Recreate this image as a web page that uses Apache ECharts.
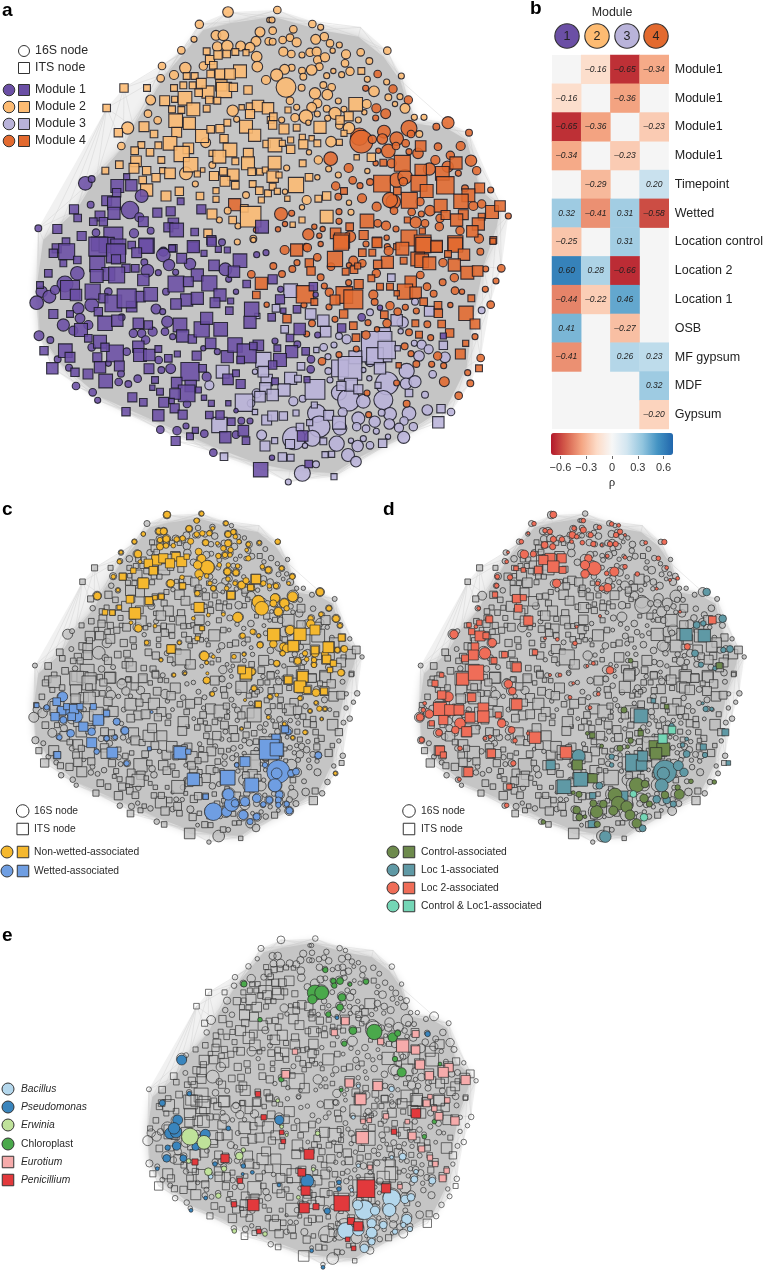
<!DOCTYPE html>
<html><head><meta charset="utf-8"><style>html,body{margin:0;padding:0;background:#fff}#c{width:766px;height:1270px}</style>
<script src="https://cdn.jsdelivr.net/npm/echarts@6/dist/echarts.min.js"></script></head><body><div id="c"></div>
<script>
const hullInner=[[690,70],[820,50],[960,90],[1075,110],[1150,170],[1200,240],[1240,370],[1340,385],[1400,420],[1440,570],[1500,620],[1490,680],[1450,800],[1420,950],[1400,1100],[1340,1220],[1200,1310],[1080,1370],[1000,1420],[870,1410],[770,1390],[640,1340],[480,1270],[300,1190],[180,1090],[120,1000],[110,860],[130,720],[230,630],[290,530],[370,440],[400,380],[500,220],[560,150],[610,90]];
const hullOuter=[[684,36],[832,30],[962,72],[1082,82],[1162,152],[1204,228],[1243,352],[1344,368],[1407,398],[1500,610],[1525,648],[1504,805],[1472,905],[1442,1074],[1411,1150],[1353,1236],[1215,1310],[1068,1385],[1002,1430],[865,1446],[782,1409],[640,1358],[481,1289],[293,1201],[157,1105],[117,1007],[110,908],[115,685],[320,324],[372,264],[486,198],[544,151],[598,73]];
const rimFans=[[684,36,[0,1,34,33,2]],[832,30,[1,0,2,34]],[962,72,[2,1,3,0]],[1082,82,[3,2,4,1]],[1162,152,[4,3,5,2]],[1204,228,[5,4,6,3]],[1243,352,[6,5,7,4]],[1344,368,[7,6,8,5]],[1407,398,[8,7,9,6]],[1500,610,[10,9,11,8]],[1525,648,[11,10,12,9]],[1504,805,[12,11,13,10]],[1472,905,[12,13,11,14]],[1442,1074,[14,13,12]],[1411,1150,[14,15,13]],[1353,1236,[15,14,16]],[1315,1267,[15,16,14]],[1215,1310,[16,15,17,14]],[1068,1385,[17,18,16,15]],[1002,1430,[18,17,19,16]],[865,1446,[19,20,18,17]],[782,1409,[20,19,21,18]],[640,1358,[21,20,22,19]],[527,1323,[22,21,20]],[481,1289,[22,21,23]],[378,1235,[23,22,21]],[293,1201,[23,22,24]],[228,1158,[24,23,22]],[157,1105,[24,23,25]],[117,1007,[25,24,26,23]],[110,908,[26,25,27,24]],[115,685,[27,28,26,29,25]],[222,628,[28,27,29]],[256,550,[29,28,30]],[316,512,[30,29,28]],[383,384,[31,30,32]],[320,324,[31,30,32,29,28,27,26]],[372,264,[32,31,30,33,29]],[486,198,[32,33,31,30]],[544,151,[33,32,34,31]],[598,73,[34,0,33,32,1]]];

const m2cNW=[[684,36,28],[598,73,22],[648,106,26],[670,106,28],[780,96,26],[582,118,16],[768,124,26],[652,140,26],[682,138,30],[722,138,26],[750,142,26],[544,151,20],[808,60,14],[806,124,20],[486,198,20],[556,204,30],[610,198,22],[522,225,24],[482,235,20],[770,170,28],[798,240,24],[772,200,28],[452,300,26],[698,332,30],[444,341,20],[473,361,20],[383,384,32],[364,438,20],[617,428,26],[637,495,18],[558,520,34],[586,552,16],[710,358,16],[738,585,18],[658,660,16],[683,632,18],[760,716,18],[714,678,16]];
const m2sNW=[[372,264,22],[441,264,18],[320,324,20],[620,154,18],[630,180,24],[706,156,18],[738,158,16],[680,162,20],[654,165,22],[640,196,20],[720,214,34],[660,222,26],[632,222,20],[690,222,28],[584,228,18],[560,228,18],[522,264,18],[550,256,18],[578,256,18],[624,276,32],[604,250,26],[664,256,30],[672,270,40],[700,262,22],[744,270,22],[524,298,16],[494,302,26],[555,295,36],[596,278,20],[628,300,20],[652,302,18],[516,328,18],[544,330,18],[580,328,34],[620,326,18],[725,322,14],[750,320,20],[774,318,30],[804,325,30],[750,342,24],[812,360,18],[432,380,26],[355,398,22],[462,402,20],[527,362,36],[568,370,32],[530,397,26],[606,408,34],[632,388,20],[660,386,22],[682,368,18],[738,380,34],[764,406,32],[672,416,22],[424,435,18],[404,452,20],[450,457,20],[475,436,18],[510,430,36],[565,445,28],[545,462,40],[690,450,36],[745,460,26],[800,432,20],[636,460,16],[658,470,34],[706,484,18],[744,490,34],[484,480,18],[408,484,28],[402,505,26],[572,494,38],[316,512,18],[358,494,20],[440,512,22],[488,512,16],[510,520,28],[468,533,22],[428,540,20],[608,510,12],[592,522,16],[642,528,24],[670,514,20],[700,524,30],[755,515,20],[780,515,18],[796,510,16],[675,544,26],[706,556,20],[758,552,18],[778,572,20],[804,580,18],[440,570,32],[498,588,26],[538,574,22],[648,572,16],[600,588,20],[648,598,16],[784,600,16],[636,642,26],[698,660,20],[733,625,20],[752,650,54],[624,700,22]];
const m1sNW=[[380,530,16],[352,558,34],[394,556,30],[320,602,26],[350,578,22],[342,610,34],[342,640,32],[222,628,24],[233,654,20],[300,648,26],[280,665,20],[310,665,22],[172,687,24],[245,708,24],[472,638,24],[512,634,24],[542,604,18],[604,628,24],[520,670,28],[505,682,24],[530,690,36],[584,696,20],[786,680,34],[634,720,24],[430,665,26],[340,710,50],[295,732,36],[320,735,40],[355,740,40],[440,737,40],[198,725,20],[170,745,24],[520,745,20],[580,742,26],[655,748,16]];
const m1cNW=[[256,550,36],[275,537,18],[425,588,34],[390,630,46],[272,614,18],[418,652,24],[115,685,18],[288,698,20],[452,692,18],[402,700,24],[666,727,18],[490,755,24]];
const m4sNW=[[704,614,32]];
const m4cNW=[[768,690,14]];

const m1sSW=[[200,35,42],[160,40,22],[295,20,50],[348,40,50],[438,18,38],[395,15,20],[410,38,26],[516,25,18],[580,20,32],[545,55,26],[612,40,16],[682,30,16],[635,5,24],[720,62,36],[145,100,20],[190,70,18],[232,60,20],[292,72,40],[348,58,24],[378,85,22],[406,85,20],[325,102,34],[350,105,42],[290,108,34],[430,120,30],[642,76,28],[702,95,30],[592,105,32],[528,132,42],[565,125,26],[628,130,40],[660,165,32],[740,132,20],[120,135,18],[210,150,50],[228,165,30],[278,155,40],[310,175,24],[340,190,44],[395,200,28],[420,170,28],[452,163,36],[380,175,50],[560,180,32],[592,175,32],[528,192,28],[645,188,26],[692,183,16],[688,212,20],[755,208,38],[160,222,24],[210,222,18],[295,215,22],[315,250,38],[352,242,30],[415,250,28],[445,255,22],[540,255,36],[548,288,32],[577,297,22],[605,268,40],[620,235,32],[662,268,36],[750,247,32],[243,270,34],[265,295,20],[300,305,34],[345,340,44],[315,322,22],[415,320,30],[420,345,34],[448,345,30],[475,327,18],[632,310,28],[590,347,24],[505,355,20],[532,342,16],[196,332,36],[210,352,26],[132,332,22],[292,352,24],[300,382,30],[358,378,26],[157,385,30],[225,397,22],[264,402,26],[447,386,26],[317,423,36],[570,395,48],[608,385,20],[530,428,28],[572,438,30],[560,460,44],[525,462,28],[595,450,16],[480,455,18],[457,443,14],[465,420,18],[397,472,24],[430,487,20],[491,487,26],[515,483,14],[524,505,24],[548,524,24],[634,490,16],[612,473,14],[475,526,30],[378,515,22],[628,525,20],[660,525,22],[694,545,20],[685,490,14],[722,432,24],[684,418,28],[708,400,18],[682,350,32],[705,315,38],[775,316,28],[740,340,50],[722,360,20],[760,318,20],[730,572,28],[570,589,18],[586,571,16],[676,592,30],[527,603,24],[738,602,20],[782,689,38]];
const m1cSW=[[490,45,36],[507,75,30],[570,72,30],[433,67,18],[442,92,34],[475,98,16],[527,97,16],[676,88,34],[770,44,16],[798,38,16],[686,118,16],[498,155,18],[708,155,14],[125,155,30],[148,170,34],[110,188,36],[195,132,42],[232,100,36],[165,150,24],[325,155,20],[235,205,30],[275,195,36],[240,235,26],[190,255,32],[265,255,24],[220,272,24],[365,232,18],[468,207,26],[488,215,16],[502,245,30],[458,275,24],[495,275,20],[400,280,22],[425,280,22],[437,300,22],[275,322,20],[380,335,20],[518,290,16],[610,325,14],[652,335,16],[117,287,26],[151,300,18],[173,358,18],[207,383,18],[476,360,20],[325,370,16],[363,401,18],[484,390,18],[512,386,26],[413,416,20],[356,426,20],[385,432,18],[228,438,20],[278,457,20],[293,481,16],[620,410,24],[708,512,12],[561,492,20],[481,569,20],[531,572,22],[558,558,16],[613,581,20],[708,584,20],[724,542,18],[750,543,16],[640,638,20]];
const m3sSW=[[668,395,34],[672,650,20],[732,488,46],[795,618,26],[658,555,40],[790,360,40],[800,420,30],[790,395,28],[772,228,14],[796,445,30],[780,470,28],[765,516,14],[800,540,26]];
const m3cSW=[[628,436,24],[785,585,26],[765,395,14],[770,460,24],[753,490,20]];
const m4sSW=[[784,130,32],[769,165,20]];
const m4cSW=[[754,103,20],[800,194,14]];
const m2cSW=[[712,6,16],[760,0,14]];

const m2cNE=[[22,30,20],[6,60,16],[70,88,20],[8,92,20],[127,72,20],[152,82,16],[38,120,20],[60,113,20],[80,127,24],[137,118,26],[163,110,22],[180,130,20],[208,135,16],[8,125,18],[352,152,20],[272,157,20],[40,155,24],[64,162,20],[120,157,22],[140,155,24],[96,165,16],[188,152,14],[228,163,24],[143,180,22],[165,172,24],[225,190,20],[298,183,18],[148,200,20],[125,210,28],[96,212,18],[190,213,14],[240,214,22],[65,203,18],[44,208,26],[20,225,32],[48,262,52],[100,230,18],[170,227,16],[215,224,16],[292,238,16],[350,246,16],[394,228,16],[160,255,18],[185,262,20],[95,263,18],[135,280,30],[172,284,28],[312,274,28],[355,292,18],[390,290,16],[375,312,14],[405,325,26],[60,302,20],[205,303,16],[290,312,24],[142,310,24],[125,322,26],[80,322,16],[170,326,18],[195,340,32],[222,328,16],[283,337,14],[108,350,36],[75,353,22],[142,342,16],[173,355,16],[265,360,16],[35,360,16],[208,376,20],[115,368,14],[237,384,30],[433,352,16],[462,352,16],[448,402,18],[183,425,28],[117,457,14],[145,480,22],[176,507,16],[205,525,16],[142,532,14],[50,504,16],[292,513,14],[45,575,14],[110,600,24],[96,622,14],[237,608,14],[243,637,16]];
const m2sNE=[[274,213,18],[257,313,36],[236,349,24],[54,330,16],[10,350,20],[8,375,22],[42,387,26],[80,383,18],[150,382,32],[222,400,16],[97,412,16],[125,415,14],[142,430,18],[100,433,24],[62,420,16],[208,427,16],[15,435,36],[37,430,16],[62,448,22],[14,488,34],[98,490,18],[304,472,22],[260,472,14],[8,530,30],[27,525,16],[117,532,20],[78,555,40],[8,560,18],[22,574,16],[52,596,14],[145,596,18],[170,588,22],[170,650,34],[96,660,16],[68,674,14],[210,360,22]];
const m4cNE=[[323,222,20],[287,265,16],[369,267,22],[415,300,22],[319,325,24],[347,341,26],[317,354,16],[534,368,32],[499,380,18],[597,398,18],[268,410,46],[274,425,60],[417,385,42],[342,395,34],[307,418,22],[337,417,28],[380,416,36],[355,453,36],[378,438,20],[407,430,20],[325,452,14],[423,402,20],[444,460,28],[417,455,16],[504,440,20],[572,438,24],[182,476,36],[236,504,24],[603,482,30],[541,466,22],[496,480,24],[620,512,22],[365,490,24],[317,490,14],[478,507,32],[380,540,38],[405,530,38],[533,500,30],[565,520,16],[197,558,22],[248,541,20],[270,557,16],[300,546,18],[400,545,22],[662,570,16],[205,590,18],[276,595,24],[370,605,38],[360,600,40],[450,605,22],[320,620,24],[585,565,18],[610,618,24],[635,612,22],[715,648,16],[372,632,20],[425,636,20],[480,632,28],[454,642,16],[33,642,34],[65,640,16],[207,635,16],[510,655,22],[437,667,30],[465,670,20],[348,677,24],[323,670,20],[45,672,14],[24,688,14],[133,680,14],[158,687,14],[207,664,16],[115,703,30],[378,687,16],[508,680,22],[570,692,22],[148,707,14],[240,710,30],[350,713,14],[627,716,24],[108,741,20],[352,740,16]];
const m4sNE=[[452,438,28],[397,490,42],[558,489,32],[452,510,30],[517,520,36],[336,551,44],[447,550,42],[526,556,46],[382,573,20],[470,573,34],[629,564,26],[595,586,34],[418,601,42],[573,604,38],[512,617,34],[527,645,24],[580,644,26],[666,636,34],[690,618,28],[560,660,32],[635,650,18],[625,672,32],[607,694,30],[291,663,36],[222,573,18],[340,488,18],[239,680,20],[281,705,24],[197,700,28],[216,722,40],[321,725,24],[412,660,16],[457,693,16],[417,714,42],[458,730,44],[500,738,30],[556,730,40],[670,720,18],[380,740,16]];

const m4cSE=[[44,30,24],[112,23,22],[152,12,14],[288,12,16],[356,33,24],[142,52,20],[10,78,18],[81,68,16],[36,102,18],[67,87,18],[250,62,24],[237,76,14],[183,80,20],[277,70,20],[319,100,22],[694,85,20],[519,68,22],[553,113,22],[631,35,18],[647,87,16],[678,123,16],[152,112,18],[163,138,16],[178,157,22],[236,128,16],[310,164,24],[451,105,20],[518,127,18],[471,140,20],[491,161,18],[555,152,20],[576,155,14],[646,148,16],[662,194,20],[177,201,16],[314,186,18],[360,197,22],[406,202,16],[439,213,16],[541,195,14],[383,215,20],[195,238,16],[102,195,16],[126,250,18],[294,248,16],[351,250,22],[472,253,18],[417,277,18],[321,268,14],[615,290,16],[482,293,16],[288,285,22],[110,282,16],[632,354,20],[404,319,18],[259,327,16],[207,344,16],[156,364,20],[423,341,16],[503,348,22],[521,377,16],[485,373,16],[439,372,18],[380,429,16],[593,398,16],[601,430,18],[523,425,26],[566,467,20],[291,459,16],[410,491,18],[296,524,16]];
const m4sSE=[[80,30,32],[195,57,40],[118,69,22],[123,93,22],[277,38,20],[307,38,18],[213,8,40],[321,8,26],[397,26,34],[460,15,40],[500,20,30],[556,15,38],[669,4,16],[534,42,18],[582,44,30],[352,67,32],[323,73,22],[227,95,18],[252,89,20],[263,78,16],[304,115,18],[401,62,18],[443,57,36],[455,62,36],[478,70,34],[553,75,32],[592,98,34],[623,93,28],[422,125,30],[266,132,24],[405,155,40],[437,158,30],[360,140,18],[330,140,18],[105,163,46],[223,165,44],[250,178,50],[195,180,26],[133,186,18],[380,160,14],[461,185,20],[504,196,20],[505,220,22],[604,175,18],[588,220,38],[221,222,22],[343,224,20],[51,236,22],[615,252,26],[436,250,18],[515,252,20],[539,279,22],[250,257,20],[447,284,18],[258,293,20],[587,310,16],[571,342,26],[627,385,18],[386,376,14]];
const m1sSE=[[8,118,24],[130,140,22],[30,178,24],[81,208,20],[40,212,14],[5,232,20],[215,264,22],[89,267,30],[60,294,20],[22,325,18],[65,335,32],[107,334,20],[30,360,34],[8,375,22],[111,419,16],[15,424,18],[98,588,28],[116,672,20],[520,288,16]];
const m1cSE=[[32,148,16],[137,164,14],[275,232,20],[15,303,16],[82,313,18],[123,358,20],[122,388,20],[143,285,16],[330,203,14],[6,653,14]];
const m3sSE=[[62,152,36],[122,222,28],[160,242,30],[167,275,28],[44,268,20],[18,205,20],[364,113,20],[478,214,26],[380,241,30],[343,281,32],[520,316,22],[320,320,80],[315,348,44],[350,330,46],[256,352,34],[383,325,14],[139,330,14],[210,385,44],[240,385,62],[93,379,20],[330,385,30],[62,415,32],[84,416,18],[243,434,34],[214,438,24],[135,448,52],[42,450,32],[265,448,24],[324,436,16],[417,459,20],[8,465,30],[133,495,16],[78,519,16],[40,528,22],[8,528,26],[176,526,26],[513,506,22],[505,547,30],[119,548,16],[207,548,34],[90,561,20],[60,612,24],[14,602,16],[160,604,18],[338,610,22],[37,651,22],[62,653,18],[165,644,16],[185,643,16],[192,710,16]];
const m3cSE=[[435,185,18],[300,217,18],[398,247,30],[635,211,18],[392,274,14],[207,288,18],[230,298,24],[161,322,20],[192,315,16],[433,310,16],[455,314,24],[476,328,24],[525,352,28],[447,348,28],[174,350,16],[300,365,26],[280,390,14],[175,393,18],[410,393,40],[488,403,20],[351,430,60],[408,431,30],[435,425,32],[298,415,14],[180,420,16],[207,458,40],[236,480,58],[340,480,50],[280,484,36],[70,484,24],[98,476,18],[465,464,18],[472,510,28],[543,516,20],[140,520,48],[360,522,34],[417,520,36],[218,517,24],[335,518,18],[265,535,34],[314,545,30],[402,543,22],[358,552,28],[148,560,56],[210,565,36],[260,560,22],[288,566,20],[319,574,16],[387,563,24],[430,560,22],[72,595,60],[127,595,42],[200,611,40],[401,592,32],[243,602,14],[280,596,16],[354,590,14],[263,618,30],[300,616,20],[105,617,14],[234,645,34],[258,665,28],[97,700,42],[138,673,18],[55,726,16]];

// ---------- panel c highlights (3x crop of panel c)
const nonWettedC=[[501,44,18],[605,41,12],[590,62,14],[678,70,12],[567,86,16],[477,94,16],[491,94,18],[430,102,12],[499,117,18],[480,120,14],[530,118,14],[548,115,14],[590,103,14],[607,100,14],[628,100,14],[638,85,10],[684,103,16],[700,96,14],[706,110,12],[717,125,12],[403,125,12],[480,140,18],[498,137,14],[520,137,12],[572,124,16],[617,128,16],[596,155,18],[652,130,10],[684,130,18],[670,145,14],[692,150,14],[745,133,12],[740,150,10],[778,128,10],[833,125,14],[363,157,10],[414,162,20],[358,185,12],[420,185,10],[605,176,22],[622,202,36],[593,195,22],[597,222,22],[655,168,14],[675,165,14],[690,165,12],[745,175,14],[658,195,12],[685,195,12],[713,198,12],[787,200,12],[805,210,16],[682,215,18],[708,218,16],[845,205,12],[340,230,12],[368,228,12],[512,250,20],[546,232,12],[600,235,10],[620,228,12],[630,250,12],[684,237,12],[725,255,20],[738,242,16],[758,265,12],[877,230,14],[790,250,14],[808,258,12],[828,258,14],[866,250,10],[354,270,10],[292,288,20],[640,265,14],[592,280,14],[680,265,12],[705,250,12],[960,276,20],[775,305,32],[785,325,36],[825,295,24],[878,290,26],[820,310,18],[853,310,24],[835,335,22],[860,325,14],[713,352,26],[625,345,10],[580,355,10],[670,343,10],[415,385,20],[393,368,10],[465,378,10],[987,325,14],[1008,356,18],[963,343,12],[932,355,14],[932,372,22],[1020,377,12],[758,395,14],[776,407,10],[728,407,14],[870,390,24],[440,428,12],[538,428,10],[780,435,16],[820,432,20],[850,440,20],[860,445,22],[848,460,14],[915,460,14],[945,460,20],[942,480,14],[975,462,18],[1012,450,14],[1033,447,18],[613,468,24],[620,488,10],[483,480,10],[640,470,10],[702,470,12],[732,463,10],[756,515,18],[830,490,16],[893,483,18],[920,478,12],[942,495,14],[1023,518,18],[522,525,10],[555,520,8],[620,541,18],[622,520,8],[637,582,12],[762,565,14],[810,590,12],[735,600,8],[830,585,10],[900,595,12],[948,578,20],[948,608,10],[958,626,14],[930,633,10],[975,627,10],[965,657,8],[853,672,10],[915,697,12],[725,686,8],[878,713,10],[805,652,10],[1006,820,10]];
const nonWettedS=[[528,170,22],[470,180,26],[490,175,24],[510,190,24],[545,185,26],[560,170,14],[445,190,22],[460,212,22],[400,212,14],[368,230,18],[430,250,28],[315,337,14],[337,338,14],[548,258,16],[390,298,20],[447,302,20],[465,293,12],[484,290,14],[358,322,12],[405,340,30],[597,322,26],[606,385,12],[592,415,12],[513,447,22],[693,286,20],[768,237,24],[752,263,16],[821,404,32],[900,403,32],[880,438,28],[945,450,20],[945,390,26],[985,442,28],[980,478,22],[1025,413,18],[1000,490,16],[990,510,14],[738,520,30],[725,510,20],[865,540,20],[908,530,28],[900,560,30],[922,570,18],[972,574,18],[775,613,16]];
const wettedC=[[188,590,26],[140,622,14],[375,692,20],[212,700,20],[275,695,20],[350,665,18],[178,712,14],[320,715,14],[345,712,12],[290,755,14],[380,790,14],[865,695,16],[955,766,18],[710,795,12],[795,795,14],[835,815,60],[830,820,28],[873,820,18],[888,815,18],[825,856,34],[838,884,20],[770,895,22],[790,913,14],[808,900,18],[835,900,16],[835,915,14],[860,912,14],[868,932,18],[640,935,46],[680,935,26],[695,912,38],[685,883,30],[730,945,24],[770,950,18],[750,965,16],[735,905,24],[705,910,20],[230,650,30],[210,635,24],[190,660,18],[455,636,8]];
const wettedS=[[110,616,12],[170,605,20],[185,632,22],[165,650,22],[200,620,16],[222,627,24],[240,620,16],[215,650,20],[280,620,16],[295,660,28],[320,640,16],[250,680,24],[275,728,26],[337,758,28],[172,765,18],[448,746,10],[540,758,32],[565,755,14],[580,838,32],[683,833,38],[855,688,18],[828,715,22],[808,748,52],[830,748,34],[735,785,26],[755,855,36],[617,890,14]];

// ---------- panel d highlights (3x crop of panel d)
const loc2C=[[520,44,18],[462,71,12],[610,62,12],[582,85,12],[658,82,12],[695,72,12],[716,76,10],[445,100,8],[495,92,12],[510,95,14],[610,90,16],[577,105,18],[590,110,12],[632,105,14],[720,95,14],[708,105,14],[735,105,8],[424,125,12],[520,118,16],[546,118,14],[607,128,12],[640,132,14],[575,125,10],[665,135,8],[690,132,14],[707,132,14],[797,128,10],[853,126,14],[494,135,18],[518,140,16],[433,163,22],[460,162,16],[384,157,8],[380,185,10],[625,175,20],[643,205,36],[615,195,24],[615,222,22],[682,168,10],[735,172,10],[703,215,24],[680,220,12],[735,200,12],[835,175,12],[860,203,10],[772,222,12],[870,240,8],[352,230,12],[390,232,14],[530,250,22],[653,250,12],[683,263,22],[665,265,14],[350,257,12],[830,266,8],[893,235,10],[296,325,10],[222,403,22],[325,358,16],[590,380,8],[660,348,8],[495,415,8],[532,418,10],[585,430,12],[337,428,22],[288,380,10],[315,460,30],[385,552,22],[397,573,20],[690,511,20],[640,490,10],[622,498,8],[540,525,10],[510,525,8],[580,550,8],[655,582,10],[570,592,10],[630,623,10],[134,610,10],[130,630,12],[120,652,20],[148,642,22],[205,590,26],[200,640,20],[240,670,28],[365,670,22],[395,690,18],[177,698,18],[226,690,20],[125,720,14],[405,722,12],[315,715,10],[240,745,12],[400,790,14],[238,838,10],[380,916,12],[330,710,10],[900,335,8],[922,440,16],[445,700,10]];
const loc2S=[[510,175,26],[490,180,24],[545,175,24],[520,200,30],[475,210,20],[548,210,18],[430,210,12],[408,205,12],[410,296,22],[430,293,16],[345,284,14],[415,325,20],[445,362,24],[328,358,18],[298,368,14],[267,375,12],[275,395,16],[300,408,26],[318,407,16],[285,440,20],[280,465,26],[255,475,18],[342,482,16],[374,464,16],[410,502,24],[465,457,14],[248,537,32],[288,518,40],[185,525,12],[165,550,16],[410,613,28],[185,585,22],[275,592,22],[180,627,34],[210,630,28],[237,630,26],[270,652,26],[310,625,28],[310,650,30],[355,645,16],[155,670,14],[190,660,24],[260,695,26],[465,713,30],[558,757,30],[180,752,24],[190,765,16],[334,760,22],[265,816,24],[997,360,20],[388,860,14]];
const loc1C=[[980,276,20],[1028,356,20],[970,370,14],[950,375,18],[1050,447,18],[945,460,18],[1030,450,14],[963,494,14],[1005,505,12],[968,610,8],[977,627,14],[995,627,10],[875,678,14],[920,717,10],[908,735,12],[920,762,18],[975,765,14],[855,815,60],[850,820,32],[895,797,26],[912,817,22],[845,856,34],[596,768,34],[695,770,14],[695,795,12],[658,857,18],[860,900,20],[830,898,20],[880,912,16],[788,985,18],[676,1010,30],[790,775,10]];
const loc1S=[[918,404,32],[973,407,32],[783,648,36],[820,602,12],[1036,697,18],[970,741,16],[1045,789,12],[512,795,24],[602,838,36],[552,860,36],[762,788,44],[785,795,28],[788,768,26],[730,887,24],[635,972,18],[638,887,16]];
const controlC=[[752,482,12],[732,630,16],[752,722,14],[720,745,16],[743,740,10],[622,700,10],[665,738,10],[780,690,10],[770,855,38],[795,852,20],[855,885,20],[898,883,26],[893,862,14],[933,844,12],[1003,846,12],[705,885,36],[715,910,36],[650,935,32],[700,932,24],[740,920,30],[750,945,26],[770,970,24],[792,895,22],[808,912,16],[640,910,18],[670,912,20],[590,930,20],[598,952,18],[490,966,12],[615,950,10],[580,878,10],[597,883,16],[652,973,16]];
const controlS=[[830,745,40],[850,748,34],[828,760,30],[782,700,14],[637,706,14],[860,620,12],[592,795,26],[638,835,24],[1018,497,16]];
const bothC=[[760,882,18],[792,952,20]];
const bothS=[[876,690,20],[848,716,24]];

// ---------- panel e highlights (3x crop of panel e)
const bacillus=[[1175,835,46],[1168,870,34],[1093,870,50],[1073,855,26],[1125,872,24],[1215,838,22],[1233,832,20],[1220,898,26],[1210,915,14],[1230,927,14],[1150,915,20],[1115,910,24],[1115,938,28],[1037,932,42],[1075,930,30],[1115,965,18],[1093,985,22],[1185,935,14],[1175,507,14],[1208,710,18],[1175,712,10],[1075,737,10],[1243,778,18],[1297,782,18],[1248,755,12],[632,770,12],[1055,810,10],[1060,592,10],[1075,498,10]];
const pseudomonas=[[545,420,26],[487,549,16],[568,521,12],[533,600,26],[510,640,28],[528,636,30],[522,625,30],[616,643,26],[503,683,14],[530,678,22],[587,680,20],[500,715,20],[550,715,18],[472,746,10],[645,732,12],[730,738,12],[757,757,10],[728,762,8],[838,600,24],[922,783,34],[837,795,10],[1017,787,12],[1017,807,12],[1011,293,10],[1283,342,14],[982,873,16],[617,834,10],[573,871,10],[935,992,10],[969,1042,10],[685,625,12]];
const erwinia=[[570,650,44],[612,667,36],[718,708,20],[730,690,12],[672,746,14],[625,755,20],[566,723,12],[655,827,14],[845,620,10],[860,645,8],[833,542,10],[953,640,12],[895,832,10],[940,748,10],[703,933,12],[795,942,12]];
const chloroplast=[[945,218,40],[965,218,36],[937,238,24],[976,150,14],[1000,183,14],[1020,183,18],[1003,197,14],[1050,193,10],[1098,185,14],[1026,232,20],[1020,262,18],[985,283,14],[1059,332,20],[1123,336,40],[1033,371,14],[1178,352,24],[1193,340,16],[1185,417,14],[1205,457,24],[1320,432,10],[1273,650,12],[1303,605,12],[732,192,16],[780,299,12],[844,478,14],[1024,510,10]];
const eurotium=[[1036,303,20],[1003,338,16],[1247,342,18],[1142,365,16],[1208,378,32],[1247,390,22],[885,395,14],[1260,434,24],[1288,467,22],[1347,443,22],[1330,457,26],[1397,480,24],[857,463,20],[1048,489,22],[1133,498,24],[1082,538,28],[1280,550,18],[1342,541,14],[1303,566,14],[1290,530,12],[1158,589,14],[1089,604,12],[1108,601,12],[1317,589,20],[1365,603,22],[1222,605,12],[1087,653,32],[1237,648,20],[1265,687,16],[1290,713,14],[1306,732,14],[1340,752,14],[1328,775,18],[1110,742,12],[1200,800,12]];
const penicillium=[[774,522,14],[791,592,14],[1248,580,24],[1182,635,14],[845,637,12],[850,664,12],[927,703,26],[675,715,22],[585,726,16],[905,757,20],[720,782,14],[917,812,24],[1098,806,46],[1158,805,24],[1025,850,40],[760,855,30],[702,853,14],[913,864,26],[948,860,16],[1053,903,18],[1075,919,24],[777,934,12],[1043,958,12],[1061,985,12]];

// ---------- panel b
const moduleLabels=['1','2','3','4'];
const rowLabels=['Module1','Module1','Module1','Module1','Timepoint','Wetted','Location control','Location 2','Location 1','OSB','MF gypsum','MDF','Gypsum'];
const rhoCells=[[1,0,-0.16],[2,0,-0.65],[3,0,-0.34],[0,1,-0.16],[2,1,-0.36],[0,2,-0.65],[1,2,-0.36],[3,2,-0.23],[0,3,-0.34],[2,3,-0.23],[1,4,-0.29],[3,4,0.20],[0,5,0.32],[1,5,-0.41],[2,5,0.31],[3,5,-0.58],[0,6,-0.25],[2,6,0.31],[0,7,0.60],[1,7,0.28],[2,7,-0.66],[0,8,-0.44],[1,8,-0.22],[2,8,0.46],[0,9,0.41],[2,9,-0.27],[0,10,-0.41],[2,10,0.26],[3,10,0.23],[3,11,0.32],[3,12,-0.20]];
const rhoTicks=[-0.6,-0.3,0,0.3,0.6];

// ---------- colours
const M={1:'#6b4fa5',2:'#fdbb72',3:'#b9b3da',4:'#e36a2f'};
const place=(a,dx,dy)=>a.map(p=>[p[0]+dx,p[1]+dy,p[2]]);
const moduleNodes={
 c3:[...place(m3cSW,0,720),...place(m3cSE,810,720)],
 s3:[...place(m3sSW,0,720),...place(m3sSE,810,720)],
 c4:[...place(m4cNW,0,0),...place(m4cSW,0,720),...place(m4cNE,810,0),...place(m4cSE,810,720)],
 s4:[...place(m4sNW,0,0),...place(m4sSW,0,720),...place(m4sNE,810,0),...place(m4sSE,810,720)],
 c2:[...place(m2cNW,0,0),...place(m2cSW,0,720),...place(m2cNE,810,0)],
 s2:[...place(m2sNW,0,0),...place(m2sNE,810,0)],
 c1:[...place(m1cNW,0,0),...place(m1cSW,0,720),...place(m1cSE,810,720)],
 s1:[...place(m1sNW,0,0),...place(m1sSW,0,720),...place(m1sSE,810,720)]
};
const allC=[...moduleNodes.c3,...moduleNodes.c4,...moduleNodes.c2,...moduleNodes.c1];
const allS=[...moduleNodes.s3,...moduleNodes.s4,...moduleNodes.s2,...moduleNodes.s1];

// ---------- grids
const S=0.696;
const grids=[],xAxes=[],yAxes=[],series=[];
function addGrid(l,t,w,h,xmax,ymax){
  grids.push({left:l,top:t,width:w,height:h,show:false});
  xAxes.push({type:'value',gridIndex:grids.length-1,min:0,max:xmax,show:false});
  yAxes.push({type:'value',gridIndex:grids.length-1,min:0,max:ymax,inverse:true,show:false});
  return grids.length-1;
}
function nodes(g,data,sym,fill,border,bw,scale){
  series.push({type:'scatter',xAxisIndex:g,yAxisIndex:g,data,symbol:sym==='c'?'circle':'rect',clip:false,silent:true,
    symbolSize:v=>v[2]/3*scale,itemStyle:{color:fill,borderColor:border,borderWidth:bw,opacity:1},emphasis:{disabled:true},animation:false});
}
function backdrop(g){
  const poly=(pts,style)=>series.push({type:'custom',xAxisIndex:g,yAxisIndex:g,data:pts,silent:true,clip:false,animation:false,
    encode:{x:0,y:1},renderItem:(p,api)=>p.dataIndex?null:{type:'polygon',shape:{points:pts.map(q=>api.coord(q))},style}});
  poly(hullOuter,{fill:'#f1f1f1'});
  const links=[];
  rimFans.forEach(r=>r[2].forEach(i=>links.push({coords:[[r[0],r[1]],hullInner[i]]})));
  series.push({type:'lines',coordinateSystem:'cartesian2d',xAxisIndex:g,yAxisIndex:g,data:links,silent:true,animation:false,
    lineStyle:{color:'#d2d2d2',width:0.6,opacity:0.8}});
  poly(hullInner,{fill:'#c5c5c5',shadowBlur:10,shadowColor:'#c5c5c5'});
}
// panel a
const ga=addGrid(0,0,540,490,1620,1470);
backdrop(ga);
[3,4,2,1].forEach(m=>{
  const f=echarts.color.modifyAlpha(M[m],0.88);
  nodes(ga,moduleNodes['c'+m],'c',f,'rgba(25,25,35,0.85)',1.1,1.14);
  nodes(ga,moduleNodes['s'+m],'s',f,'rgba(25,25,35,0.85)',1.1,1.14);
});
// base layers of c, d, e
const baseTop=506.6, baseW=540*S, baseH=490*S;
const gcb=addGrid(8.25,baseTop,baseW,baseH,1620,1470);
const gdb=addGrid(394.25,baseTop,baseW,baseH,1620,1470);
const geb=addGrid(122.25,baseTop+425,baseW,baseH,1620,1470);
[gcb,gdb].forEach(g=>{backdrop(g);
  nodes(g,allC,'c','rgba(190,190,190,0.75)','rgba(50,50,50,0.85)',0.9,S*1.2);
  nodes(g,allS,'s','rgba(190,190,190,0.75)','rgba(50,50,50,0.85)',0.9,S*1.2);
});
backdrop(geb);
nodes(geb,allC,'c','rgba(255,255,255,0.06)','rgba(50,50,50,0.85)',0.8,S*1.2);
nodes(geb,allS,'s','rgba(255,255,255,0.06)','rgba(50,50,50,0.85)',0.8,S*1.2);
// overlays
const gc=addGrid(0,500,380,400,1140,1200);
const gd=addGrid(380,500,386,420,1158,1260);
const ge=addGrid(0,920,500,350,1500,1050);
const E='rgba(40,40,40,0.85)',O=1.15;
nodes(gc,nonWettedC,'c','#f5b82e',E,0.8,O);nodes(gc,nonWettedS,'s','#f5b82e',E,0.8,O);
nodes(gc,wettedC,'c','#6f9ee2',E,0.8,O);nodes(gc,wettedS,'s','#6f9ee2',E,0.8,O);
nodes(gd,loc2C,'c','#ef6d58',E,0.8,O);nodes(gd,loc2S,'s','#ef6d58',E,0.8,O);
nodes(gd,loc1C,'c','#5f99a5',E,0.8,O);nodes(gd,loc1S,'s','#5f99a5',E,0.8,O);
nodes(gd,controlC,'c','#6d8a4c',E,0.8,O);nodes(gd,controlS,'s','#6d8a4c',E,0.8,O);
nodes(gd,bothC,'c','#74d6b6',E,0.8,O);nodes(gd,bothS,'s','#74d6b6',E,0.8,O);
nodes(ge,bacillus,'c','#b4d7ec',E,0.8,O);nodes(ge,pseudomonas,'c','#3a85bd',E,0.8,O);
nodes(ge,erwinia,'c','#bfe29a',E,0.8,O);nodes(ge,chloroplast,'c','#4aa94b',E,0.8,O);
nodes(ge,eurotium,'s','#f6abab',E,0.8,O);nodes(ge,penicillium,'s','#e2393c',E,0.8,O);

// heatmap
const gh=grids.length;
grids.push({left:552,top:55,width:120,height:374,show:true,backgroundColor:'#f5f5f5',borderWidth:0});
xAxes.push({type:'category',gridIndex:gh,data:moduleLabels,show:false});
yAxes.push({type:'category',gridIndex:gh,data:rowLabels,inverse:true,position:'right',
  axisLine:{show:false},axisTick:{show:false},splitLine:{show:false},
  axisLabel:{interval:0,margin:6,fontSize:12.5,color:'#222',fontFamily:'Liberation Sans'}});
series.push({type:'heatmap',xAxisIndex:gh,yAxisIndex:gh,data:rhoCells,silent:true,animation:false,
  label:{show:true,fontSize:8.5,fontStyle:'italic',color:'#1f1f1f',fontFamily:'Liberation Sans',
    formatter:p=>{const v=p.value[2];return (v<0?'–':'')+Math.abs(v).toFixed(2);}},
  emphasis:{disabled:true}});
// colour-bar tick axis
const gt=grids.length;
grids.push({left:551,top:455,width:122,height:1,show:false});
xAxes.push({type:'value',gridIndex:gt,min:-0.71,max:0.71,
  axisLine:{show:false},splitLine:{show:false},
  axisTick:{show:true,length:3,customValues:rhoTicks,lineStyle:{color:'#444',width:0.8}},
  axisLabel:{show:true,customValues:rhoTicks,margin:6,fontSize:11,color:'#333',fontFamily:'Liberation Sans',
    formatter:v=>v===0?'0':(v<0?'−':'')+Math.abs(v).toFixed(1)}});
yAxes.push({type:'value',gridIndex:gt,show:false});
series.push({type:'scatter',xAxisIndex:gt,yAxisIndex:gt,data:[],silent:true});

// legends and letters as chart graphics
const g=[];
const txt=(x,y,t,fs,o={})=>g.push({type:'text',silent:true,x,y,style:{text:t,fontSize:fs,fill:'#2a2a2a',fontFamily:'Liberation Sans',verticalAlign:'middle',...o}});
const circ=(x,y,r,fill,stroke='#333',lw=1)=>g.push({type:'circle',silent:true,shape:{cx:x,cy:y,r},style:{fill,stroke,lineWidth:lw}});
const sq=(x,y,s,fill,stroke='#333',lw=1)=>g.push({type:'rect',silent:true,shape:{x:x-s/2,y:y-s/2,width:s,height:s},style:{fill,stroke,lineWidth:lw}});
[['a',2,11],['b',530,9],['c',2,510],['d',383,510],['e',2,936]].forEach(a=>txt(a[1],a[2],a[0],19,{fontWeight:'bold',fill:'#000'}));
// a
circ(24,51,5.5,'#fff');sq(24,68,11,'#fff');txt(35,51,'16S node',12.4);txt(35,68,'ITS node',12.4);
[90,107,124,141].forEach((y,i)=>{const c=M[i+1];circ(9,y,5.8,c);sq(24,y,11,c);txt(35,y,'Module '+(i+1),12.4);});
// b header
txt(612,13,'Module',12.4,{align:'center'});
[567,597,627,656].forEach((x,i)=>{circ(x,36,12.2,M[i+1],'#333',1.1);txt(x,37,moduleLabels[i],12.5,{align:'center',fill:'#222'});});
txt(612,483,'ρ',13,{align:'center',fontFamily:'Liberation Serif'});
// c
circ(22.7,811,6.3,'#fff');sq(22.7,829,11.5,'#fff');txt(34,811,'16S node',10.3);txt(34,829,'ITS node',10.3);
[['#f5b82e',852,'Non-wetted-associated'],['#6f9ee2',871,'Wetted-associated']].forEach(r=>{circ(7,r[1],6,r[0]);sq(23,r[1],11.5,r[0]);txt(34,r[1],r[2],10.3);});
// d
circ(409,811,6.3,'#fff');sq(409,829,11.5,'#fff');txt(421,811,'16S node',10.3);txt(421,829,'ITS node',10.3);
[['#6d8a4c',852,'Control-associated'],['#5f99a5',870,'Loc 1-associated'],['#ef6d58',888,'Loc 2-associated'],['#74d6b6',906,'Control & Loc1-associated']].forEach(r=>{circ(393,r[1],6,r[0]);sq(409,r[1],11.5,r[0]);txt(421,r[1],r[2],10.3);});
// e
[['#b4d7ec',1089,'Bacillus','c',1],['#3a85bd',1107,'Pseudomonas','c',1],['#bfe29a',1125,'Erwinia','c',1],['#4aa94b',1144,'Chloroplast','c',0],['#f6abab',1162,'Eurotium','s',1],['#e2393c',1180,'Penicillium','s',1]].forEach(r=>{
  if(r[3]==='c')circ(8,r[1],6,r[0]);else sq(8,r[1],11.5,r[0]);
  txt(21,r[1],r[2],10.3,r[4]?{fontStyle:'italic'}:{});
});

const chart=echarts.init(document.getElementById('c'),null,{renderer:'canvas',width:766,height:1270});
chart.setOption({animation:false,backgroundColor:'#fff',grid:grids,xAxis:xAxes,yAxis:yAxes,series,graphic:g,tooltip:{show:false},
  visualMap:{type:'continuous',seriesIndex:series.findIndex(s=>s.type==='heatmap'),min:-0.71,max:0.71,orient:'horizontal',left:551,top:433,itemWidth:22,itemHeight:122,
    calculable:false,hoverLink:false,text:null,showLabel:false,handleSize:0,indicatorSize:0,padding:0,
    inRange:{color:['#b2182b','#d6604d','#f4a582','#fddbc7','#f7f7f7','#d1e5f0','#92c5de','#4393c3','#2166ac']}}});
</script></body></html>
